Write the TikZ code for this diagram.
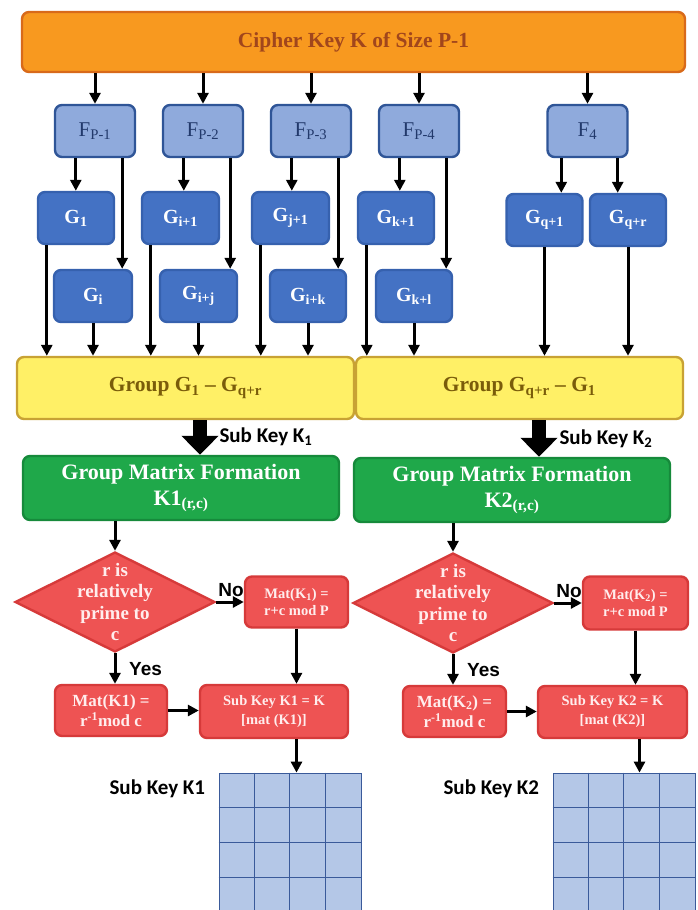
\documentclass[tikz,border=0pt]{standalone}
\usepackage{fontspec}
\setmainfont{Liberation Serif}
\setsansfont{Liberation Sans}
\newfontfamily\calibrifont{Carlito}
\usepackage{tikz}
\usetikzlibrary{arrows.meta,positioning,shapes.geometric,calc}
\definecolor{keyOrange}{HTML}{F8991F}
\definecolor{keyOrangeDk}{HTML}{D86A1A}
\definecolor{keyOrangeTx}{HTML}{A1461C}
\definecolor{fBlue}{HTML}{8FAADC}
\definecolor{fBlueDk}{HTML}{2F5597}
\definecolor{fBlueTx}{HTML}{22396B}
\definecolor{gBlue}{HTML}{4472C4}
\definecolor{gBlueDk}{HTML}{3661AE}
\definecolor{grpYellow}{HTML}{FFF066}
\definecolor{grpYellowDk}{HTML}{C8A234}
\definecolor{grpYellowTx}{HTML}{7A5C0A}
\definecolor{mtxGreen}{HTML}{1FA84A}
\definecolor{mtxGreenDk}{HTML}{168A3B}
\definecolor{decRed}{HTML}{EE5353}
\definecolor{decRedDk}{HTML}{D63A3A}
\definecolor{cellBlue}{HTML}{B4C7E7}
\definecolor{cellLine}{HTML}{3A5A9A}
\tikzset{
  boxbase/.style={rounded corners=7pt, line width=2.4pt, align=center, inner sep=2pt},
  keybox/.style={boxbase, draw=keyOrangeDk, fill=keyOrange, text=keyOrangeTx, font=\fontsize{21.5}{25}\selectfont\bfseries, minimum width=663, minimum height=60},
  fnode/.style={boxbase, draw=fBlueDk, fill=fBlue, text=fBlueTx, font=\fontsize{21}{24}\selectfont, minimum width=80, minimum height=52},
  gnode/.style={boxbase, draw=gBlueDk, fill=gBlue, text=white, font=\fontsize{20}{23}\selectfont\bfseries, minimum width=#1, minimum height=52},
  grpbox/.style={boxbase, draw=grpYellowDk, fill=grpYellow, text=grpYellowTx, font=\fontsize{21.5}{25}\selectfont\bfseries, minimum width=#1, minimum height=62},
  mtxbox/.style={boxbase, draw=mtxGreenDk, fill=mtxGreen, text=white, font=\fontsize{22}{26}\selectfont\bfseries, minimum width=316, minimum height=64},
  decision/.style={shape=diamond, draw=decRedDk, fill=decRed, line width=2.4pt, minimum width=200, minimum height=100, inner sep=0pt},
  dectext/.style={align=center, text=white!93!red, font=\fontsize{19}{21.5}\selectfont\bfseries},
  opbox/.style={boxbase, draw=decRedDk, fill=decRed, text=white!93!red, font=\bfseries},
  cellgrid/.style={draw=cellLine, fill=cellBlue, line width=0.8pt, minimum width=142, minimum height=140, inner sep=0pt},
  cellln/.style={draw=cellLine, line width=0.8pt},
  sublabel/.style={font=\calibrifont\fontsize{21}{24}\selectfont\bfseries},
  branchlbl/.style={font=\sffamily\fontsize{19}{22}\selectfont\bfseries, inner sep=0pt},
  arrflow/.style={-{Triangle[length=11pt,width=11pt]}, line width=3pt},
  arrbig/.style={-{Triangle[length=19pt,width=36pt]}, line width=14pt},
}
\begin{document}
\begin{tikzpicture}[x=1pt,y=-1pt]
\useasboundingbox (0,0) rectangle (698,910);
\clip (0,0) rectangle (698,910);

% key and the F blocks
\node[keybox] (key) at (353.5,42) {Cipher Key K of Size P-1};
\node[fnode] (fa) at (95,131) {F\textsubscript{P-1}};
\node[fnode] (fb) at (203,131) {F\textsubscript{P-2}};
\node[fnode] (fc) at (311,131) {F\textsubscript{P-3}};
\node[fnode] (fd) at (419,131) {F\textsubscript{P-4}};
\node[fnode] (fe) at (587.5,131) {F\textsubscript{4}};
\foreach \f in {fa,fb,fc,fd,fe}
  \draw[arrflow] (key.south -| \f.north) -- (\f.north);

% G blocks, two rows
\node[gnode=76] (ga1) at (76,218) {G\textsubscript{1}};
\node[gnode=77] (gb1) at (180.5,218) {G\textsubscript{i+1}};
\node[gnode=77] (gc1) at (290.5,218) {G\textsubscript{j+1}};
\node[gnode=76] (gd1) at (396,218) {G\textsubscript{k+1}};
\node[gnode=76] (ge1) at (544.5,220) {G\textsubscript{q+1}};
\node[gnode=76] (ge2) at (628,220) {G\textsubscript{q+r}};
\node[gnode=78] (ga2) at (93,296) {G\textsubscript{i}};
\node[gnode=77] (gb2) at (198.5,296) {G\textsubscript{i+j}};
\node[gnode=76] (gc2) at (308,296) {G\textsubscript{i+k}};
\node[gnode=76] (gd2) at (414,296) {G\textsubscript{k+l}};

% groups
\node[grpbox=337] (grpA) at (185.5,388) {Group G\textsubscript{1} -- G\textsubscript{q+r}};
\node[grpbox=327] (grpB) at (519.5,388) {Group G\textsubscript{q+r} -- G\textsubscript{1}};

\foreach \f/\u/\l/\g in {fa/ga1/ga2/grpA, fb/gb1/gb2/grpA, fc/gc1/gc2/grpA, fd/gd1/gd2/grpB} {
  \draw[arrflow] ([xshift=22]\f.south west) -- ([xshift=22]\f.south west |- \u.north);
  \draw[arrflow] ([xshift=-14]\f.south east) -- ([xshift=-14]\f.south east |- \l.north);
  \draw[arrflow] ([xshift=10]\u.south west) -- ([xshift=10]\u.south west |- \g.north);
  \draw[arrflow] (\l.south) -- (\l.south |- \g.north);
}
\draw[arrflow] ([xshift=15]fe.south west) -- ([xshift=15]fe.south west |- ge1.north);
\draw[arrflow] ([xshift=-11]fe.south east) -- ([xshift=-11]fe.south east |- ge2.north);
\draw[arrflow] (ge1.south) -- (ge1.south |- grpB.north);
\draw[arrflow] (ge2.south) -- (ge2.south |- grpB.north);

% matrix formation
\node[mtxbox] (grnA) at (181,488) {Group Matrix Formation\\K1\textsubscript{(r,c)}};
\node[mtxbox] (grnB) at (512,490) {Group Matrix Formation\\K2\textsubscript{(r,c)}};
\draw[arrbig] ([xshift=14.5]grpA.south) -- ([xshift=14.5]grpA.south |- grnA.north);
\draw[arrbig] ([xshift=19.5]grpB.south) -- ([xshift=19.5]grpB.south |- grnB.north);
\node[sublabel, anchor=west] (skA) at (216,437) {Sub Key K\textsubscript{1}};
\node[sublabel, anchor=west] (skB) at (556,439) {Sub Key K\textsubscript{2}};

% left branch
\node[decision] (dA) at (115,602) {};
\node[dectext] (dAt) at (dA) {r is\\relatively\\prime to\\c};
\node[opbox, minimum width=103, minimum height=51, font=\fontsize{14.5}{17}\selectfont\bfseries] (mA) at (296.5,602) {Mat(K\textsubscript{1}) =\\r+c mod P};
\node[opbox, minimum width=112, minimum height=51, font=\fontsize{17}{20}\selectfont\bfseries] (mK1) at (111,710.5) {Mat(K1) =\\r\textsuperscript{-1}mod c};
\node[opbox, minimum width=148, minimum height=53, font=\fontsize{14.5}{19}\selectfont\bfseries] (sA) at (274,711.5) {Sub Key K1 = K\\{}[mat (K1)]};
\node[cellgrid] (gridA) at (290,843) {};
\foreach \k in {1,2,3} {
  \draw[cellln] ($(gridA.north west)+(\k*35.5,0)$) -- ($(gridA.south west)+(\k*35.5,0)$);
  \draw[cellln] ($(gridA.north west)+(0,\k*35)$) -- ($(gridA.north east)+(0,\k*35)$);
}
\draw[arrflow] (grnA.south -| dA.north) -- (dA.north);
\draw[arrflow] (dA.east) -- (mA.west);
\draw[arrflow] (dA.south) -- (dA.south |- mK1.north);
\draw[arrflow] (mK1.east) -- (mK1.east -| sA.west);
\draw[arrflow] (mA.south) -- (mA.south |- sA.north);
\draw[arrflow] (mA.south |- sA.south) -- (mA.south |- gridA.north);
\node[branchlbl, anchor=south west] (noA) at ([xshift=2,yshift=5]dA.east) {No};
\node[branchlbl, anchor=west] (yesA) at ([xshift=14,yshift=-16]dA.south) {Yes};
\node[sublabel, anchor=east] (lkA) at ([xshift=-10,yshift=-16]gridA.north west) {Sub Key K1};

% right branch
\node[decision] (dB) at (453,603) {};
\node[dectext] (dBt) at (dB) {r is\\relatively\\prime to\\c};
\node[opbox, minimum width=105, minimum height=53, font=\fontsize{14.5}{17}\selectfont\bfseries] (mB) at (635.5,603) {Mat(K\textsubscript{2}) =\\r+c mod P};
\node[opbox, minimum width=103, minimum height=51, font=\fontsize{17}{20}\selectfont\bfseries] (mK2) at (454.5,711.5) {Mat(K\textsubscript{2}) =\\r\textsuperscript{-1}mod c};
\node[opbox, minimum width=149, minimum height=52, font=\fontsize{14.5}{19}\selectfont\bfseries] (sB) at (612.5,712) {Sub Key K2 = K\\{}[mat (K2)]};
\node[cellgrid] (gridB) at (624,843) {};
\foreach \k in {1,2,3} {
  \draw[cellln] ($(gridB.north west)+(\k*35.5,0)$) -- ($(gridB.south west)+(\k*35.5,0)$);
  \draw[cellln] ($(gridB.north west)+(0,\k*35)$) -- ($(gridB.north east)+(0,\k*35)$);
}
\draw[arrflow] (grnB.south -| dB.north) -- (dB.north);
\draw[arrflow] (dB.east) -- (mB.west);
\draw[arrflow] (dB.south) -- (dB.south |- mK2.north);
\draw[arrflow] (mK2.east) -- (mK2.east -| sB.west);
\draw[arrflow] (mB.south) -- (mB.south |- sB.north);
\draw[arrflow] ([xshift=4]mB.south |- sB.south) -- ([xshift=4]mB.south |- gridB.north);
\node[branchlbl, anchor=south west] (noB) at ([xshift=2,yshift=5]dB.east) {No};
\node[branchlbl, anchor=west] (yesB) at ([xshift=14,yshift=-16]dB.south) {Yes};
\node[sublabel, anchor=east] (lkB) at ([xshift=-10,yshift=-16]gridB.north west) {Sub Key K2};
\end{tikzpicture}
\end{document}
